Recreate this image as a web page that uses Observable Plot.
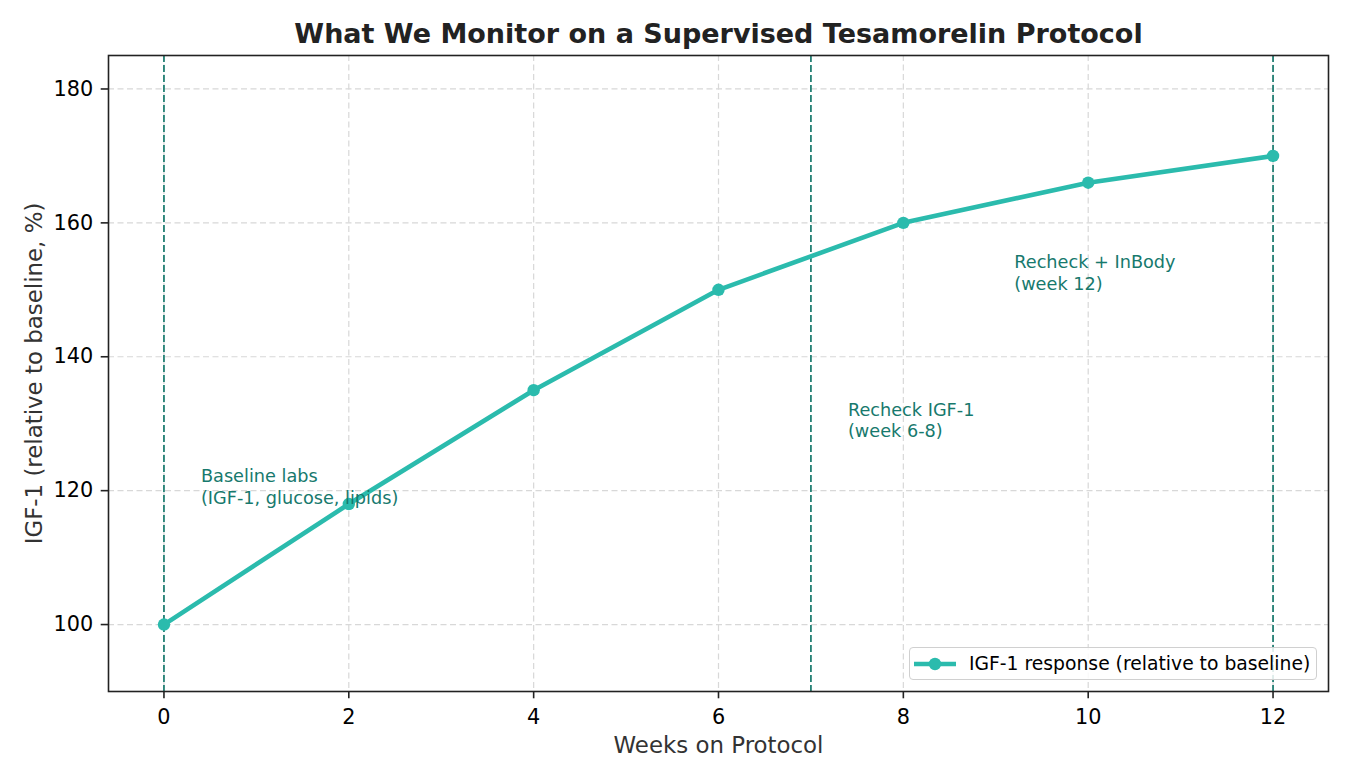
<!DOCTYPE html>
<html>
<head>
<meta charset="utf-8">
<script src="https://cdn.jsdelivr.net/npm/d3@7"></script>
<script src="https://cdn.jsdelivr.net/npm/@observablehq/plot@0.6"></script>
<style>
  html, body { margin: 0; padding: 0; background: #fff; }
  #wrap { position: relative; width: 1350px; height: 780px; font-family: "DejaVu Sans", sans-serif; }
  #legend {
    position: absolute; left: 909px; top: 647px; width: 408px; height: 33px;
    border: 1px solid #d0d0d0; border-radius: 4px; background: rgba(255,255,255,0.85);
    display: flex; align-items: center; box-sizing: border-box;
  }
  #legend svg { margin-left: 3px; }
  #legend span { font-size: 18.75px; color: #000; margin-left: 12px; white-space: nowrap; }
</style>
</head>
<body>
<div id="wrap"></div>
<script>
// ---- data ----
const weeks = [0, 2, 4, 6, 8, 10, 12];
const igf1 = [100, 118, 135, 150, 160, 166, 170];
const milestoneWeeks = [0, 7, 12];
const noteX = [0.4, 7.4, 9.2];
const noteY = [118, 128, 150];
const noteText = ["Baseline labs\n(IGF-1, glucose, lipids)", "Recheck IGF-1\n(week 6-8)", "Recheck + InBody\n(week 12)"];
const xTicks = [0, 2, 4, 6, 8, 10, 12];
const yTicks = [100, 120, 140, 160, 180];
const title = "What We Monitor on a Supervised Tesamorelin Protocol";
const xLabel = "Weeks on Protocol";
const yLabel = "IGF-1 (relative to baseline, %)";
const seriesName = "IGF-1 response (relative to baseline)";

const lineColor = "#2bbbad";
const noteColor = "#17796d";

const data = weeks.map((w, i) => ({week: w, value: igf1[i]}));
const notes = noteX.map((x, i) => ({x, y: noteY[i], text: noteText[i]}));

const chart = Plot.plot({
  width: 1350,
  height: 780,
  marginTop: 55,
  marginBottom: 89,
  marginLeft: 108,
  marginRight: 22,
  style: {fontFamily: "DejaVu Sans", fontSize: "20.8px", background: "white", color: "#000"},
  x: {domain: [-0.6, 12.6]},
  y: {domain: [90, 185]},
  marks: [
    Plot.gridX(xTicks, {stroke: "#d8d8d8", strokeOpacity: 1, strokeWidth: 1.2, strokeDasharray: "6,3.5"}),
    Plot.gridY(yTicks, {stroke: "#d8d8d8", strokeOpacity: 1, strokeWidth: 1.2, strokeDasharray: "6,3.5"}),
    Plot.ruleX(milestoneWeeks, {stroke: noteColor, strokeWidth: 1.7, strokeDasharray: "7,3"}),
    Plot.line(data, {x: "week", y: "value", stroke: lineColor, strokeWidth: 4.6}),
    Plot.dot(data, {x: "week", y: "value", r: 6.2, fill: lineColor, stroke: "none"}),
    Plot.text(notes, {x: "x", y: "y", text: "text", textAnchor: "start", lineAnchor: "bottom", lineHeight: 1.22, fill: noteColor, fontSize: 17.7}),
    Plot.frame({stroke: "#222", strokeWidth: 1.6}),
    Plot.axisX(xTicks, {tickSize: 7.3, tickPadding: 10, strokeWidth: 1.6, stroke: "#222", fill: "#000", fontSize: 20.8, label: null, tickFormat: d => String(d)}),
    Plot.axisY(yTicks, {tickSize: 7.3, tickPadding: 8, strokeWidth: 1.6, stroke: "#222", fill: "#000", fontSize: 20.8, label: null, tickFormat: d => String(d)}),
    Plot.text([title], {text: d => d, frameAnchor: "top", dy: -13, lineAnchor: "bottom", fontWeight: "bold", fontSize: 27, fill: "#222"}),
    Plot.text([xLabel], {text: d => d, frameAnchor: "bottom", dy: 61, lineAnchor: "bottom", fontSize: 22.9, fill: "#333"}),
    Plot.text([yLabel], {text: d => d, frameAnchor: "left", dx: -67, rotate: -90, lineAnchor: "bottom", textAnchor: "middle", fontSize: 22.9, fill: "#333"})
  ]
});

const wrap = document.getElementById("wrap");
wrap.appendChild(chart);

const legend = document.createElement("div");
legend.id = "legend";
legend.innerHTML = `<svg width="44" height="20" viewBox="0 0 44 20"><line x1="1" y1="10" x2="43" y2="10" stroke="${lineColor}" stroke-width="4.6"/><circle cx="22" cy="10" r="6.2" fill="${lineColor}"/></svg><span>${seriesName}</span>`;
wrap.appendChild(legend);
</script>
</body>
</html>
